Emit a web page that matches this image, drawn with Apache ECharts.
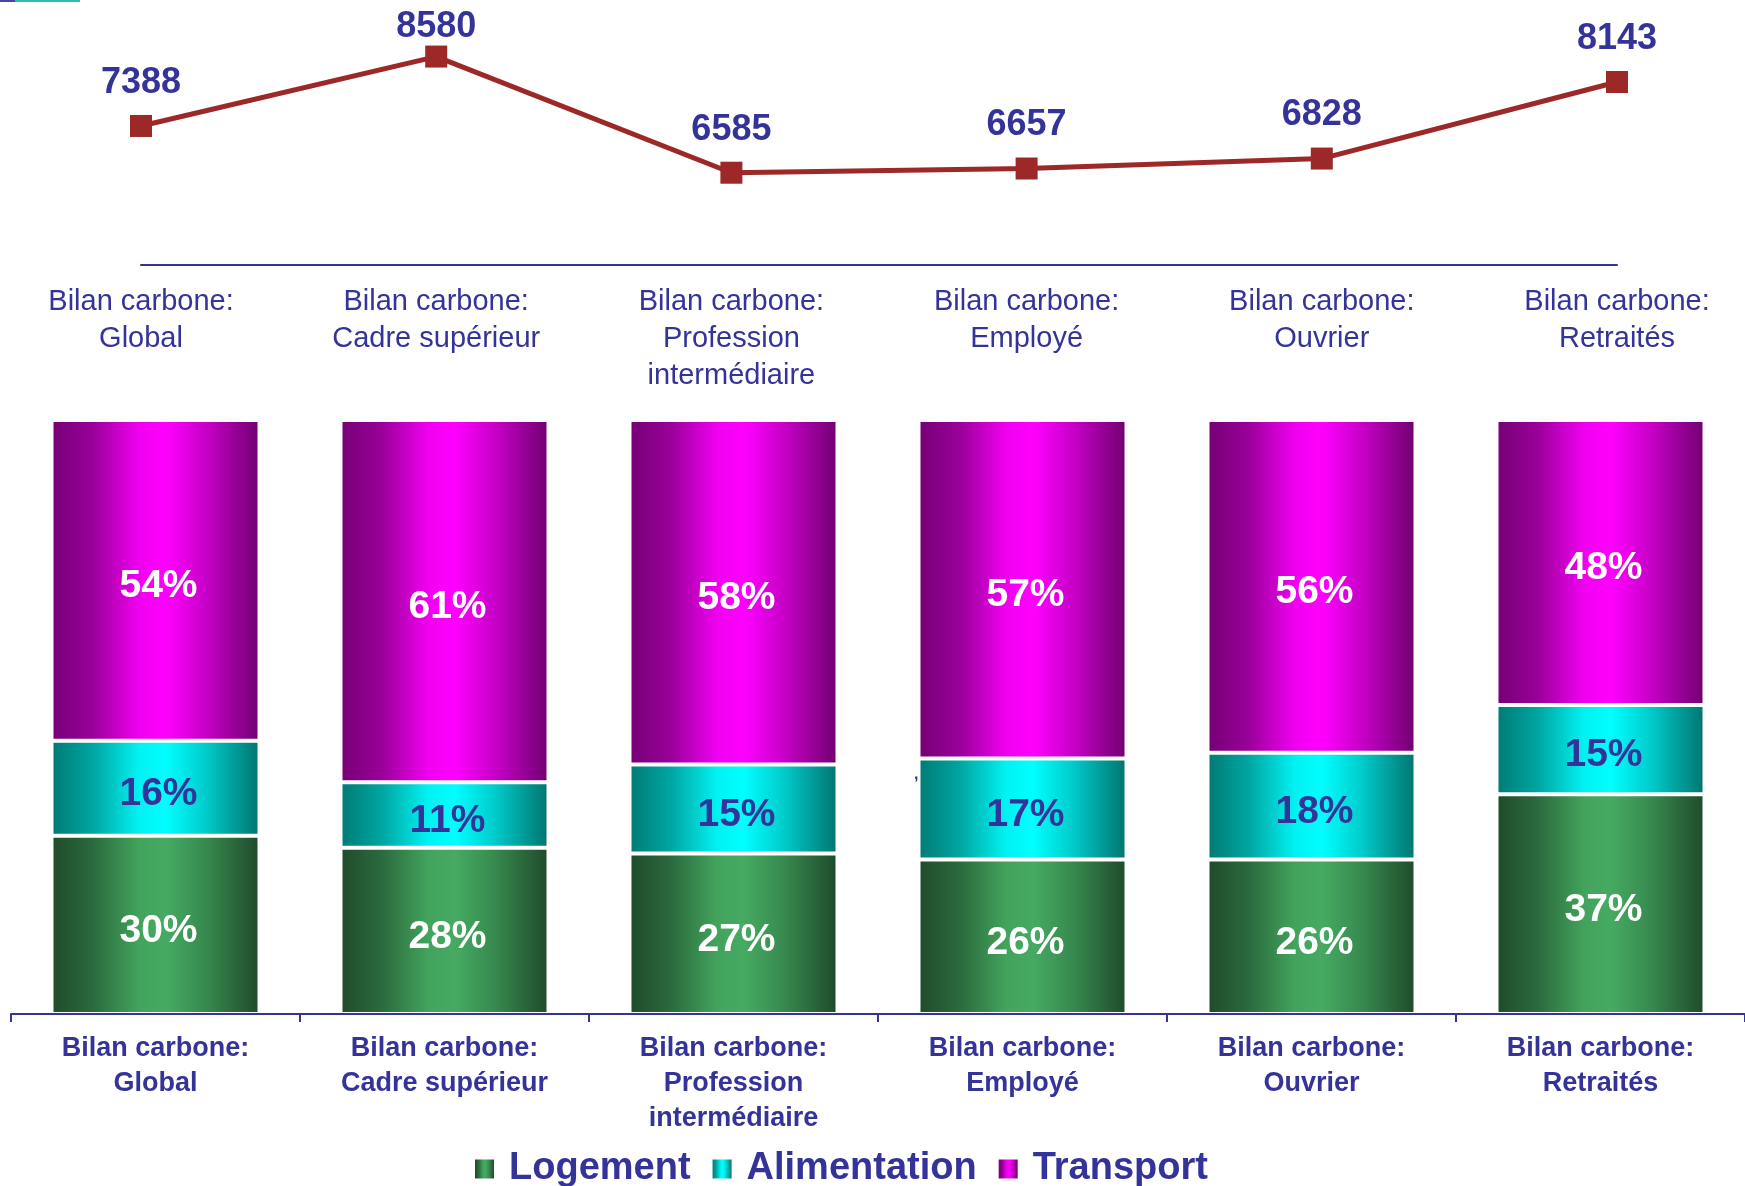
<!DOCTYPE html>
<html>
<head>
<meta charset="utf-8">
<title>Bilan carbone par catégorie</title>
<script src="https://cdn.jsdelivr.net/npm/echarts@6/dist/echarts.min.js"></script>
<style>
  html, body { margin: 0; padding: 0; background: #ffffff; }
  #chart { width: 1745px; height: 1186px; }
</style>
</head>
<body>
<div id="chart"></div>
<script>
// Categories shared by the total line and the stacked share bars
const categories = [
  'Bilan carbone:\nGlobal',
  'Bilan carbone:\nCadre supérieur',
  'Bilan carbone:\nProfession\nintermédiaire',
  'Bilan carbone:\nEmployé',
  'Bilan carbone:\nOuvrier',
  'Bilan carbone:\nRetraités'
];

// Total footprint per category
const totals = [7388, 8580, 6585, 6657, 6828, 8143];

// Share of each item in the footprint (%)
const logement = [30, 28, 27, 26, 26, 37];
const alimentation = [16, 11, 15, 17, 18, 15];
const transport = [54, 61, 58, 57, 56, 48];

const seriesNames = ['Logement', 'Alimentation', 'Transport'];

const FONT = '"Liberation Sans", Arial, Helvetica, sans-serif';
const NAVY = '#333399';

// Horizontal "cylinder" shading for the bar segments
function shade(stops) {
  return {
    type: 'linear', x: 0, y: 0, x2: 1, y2: 0,
    colorStops: stops.map(function (s) { return { offset: s[0], color: s[1] }; })
  };
}
const greenFill = shade([[0, '#1f4b2a'], [0.2, '#2b6a3d'], [0.42, '#42a35c'], [0.55, '#46aa62'], [0.74, '#378a4f'], [1, '#1f4a2a']]);
const cyanFill = shade([[0, '#007a74'], [0.2, '#00a6a2'], [0.42, '#00f2f2'], [0.55, '#00ffff'], [0.74, '#00cccc'], [1, '#00746e']]);
const magentaFill = shade([[0, '#750075'], [0.2, '#9a009a'], [0.42, '#f000f0'], [0.55, '#ff00ff'], [0.74, '#c800c8'], [1, '#700070']]);

function barSeries(name, values, fill, labelColor) {
  return {
    name: name,
    type: 'bar',
    stack: 'parts',
    xAxisIndex: 1,
    yAxisIndex: 1,
    barWidth: 208,
    data: values,
    itemStyle: { color: fill, borderColor: '#ffffff', borderWidth: 2 },
    label: {
      show: true,
      position: 'inside',
      offset: [3, 6],
      formatter: '{c}%',
      color: labelColor,
      fontFamily: FONT,
      fontWeight: 'bold',
      fontSize: 39
    }
  };
}

const chart = echarts.init(document.getElementById('chart'), null, { renderer: 'canvas' });

chart.setOption({
  backgroundColor: '#ffffff',
  animation: false,
  grid: [
    { left: 141, right: 128, top: 3, height: 262 },
    { left: 11, width: 1736, top: 420, bottom: 172 }
  ],
  xAxis: [
    {
      gridIndex: 0,
      type: 'category',
      data: categories,
      boundaryGap: false,
      axisLine: { lineStyle: { color: NAVY, width: 2 } },
      axisTick: { show: false },
      axisLabel: {
        interval: 0,
        margin: 18,
        color: NAVY,
        fontFamily: FONT,
        fontSize: 29,
        lineHeight: 37,
        align: 'center'
      }
    },
    {
      gridIndex: 1,
      type: 'category',
      data: categories,
      z: 5,
      axisLine: { lineStyle: { color: NAVY, width: 2 } },
      axisTick: { show: true, interval: 0, length: 8, lineStyle: { color: NAVY, width: 2 } },
      axisLabel: {
        interval: 0,
        margin: 17,
        color: NAVY,
        fontFamily: FONT,
        fontWeight: 'bold',
        fontSize: 27,
        lineHeight: 35,
        align: 'center'
      }
    }
  ],
  yAxis: [
    { gridIndex: 0, type: 'value', min: 5000, max: 9500, show: false },
    { gridIndex: 1, type: 'value', min: 0, max: 100, show: false }
  ],
  legend: {
    data: seriesNames,
    left: 475,
    top: 1150,
    padding: 0,
    icon: 'rect',
    itemWidth: 19,
    itemHeight: 19,
    itemGap: 22,
    itemStyle: { borderWidth: 0 },
    textStyle: {
      color: NAVY,
      fontFamily: FONT,
      fontWeight: 'bold',
      fontSize: 38,
      padding: [0, 0, 0, 10]
    }
  },
  series: [
    {
      name: 'Total',
      type: 'line',
      xAxisIndex: 0,
      yAxisIndex: 0,
      data: totals,
      symbol: 'rect',
      symbolSize: 22,
      lineStyle: { color: '#9c2828', width: 5 },
      itemStyle: { color: '#9c2828' },
      label: {
        show: true,
        position: 'top',
        distance: 14,
        color: NAVY,
        fontFamily: FONT,
        fontWeight: 'bold',
        fontSize: 36,
        lineHeight: 36
      },
      // keep value labels inside the drawing area
      labelLayout: function (p) {
        var r = p.labelRect;
        return r.y < 9 ? { dy: 9 - r.y } : {};
      },
      z: 3
    },
    barSeries('Logement', logement, greenFill, '#ffffff'),
    barSeries('Alimentation', alimentation, cyanFill, NAVY),
    barSeries('Transport', transport, magentaFill, '#ffffff')
  ],
  graphic: [
    { type: 'rect', shape: { x: 0, y: 0, width: 15, height: 2 }, style: { fill: '#4646a6' } },
    { type: 'rect', shape: { x: 15, y: 0, width: 65, height: 2 }, style: { fill: '#2cbcb4' } },
    {
      type: 'text', x: 914, y: 775,
      style: { text: ',', fill: NAVY, font: 'bold 16px ' + FONT, verticalAlign: 'middle' }
    }
  ]
});
</script>
</body>
</html>
